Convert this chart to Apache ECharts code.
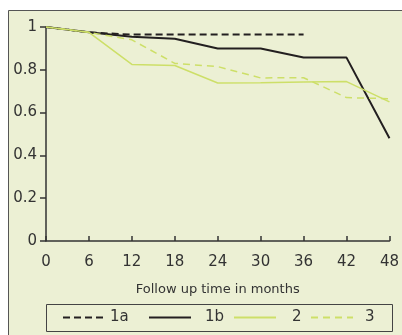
<!DOCTYPE html>
<html>
<head>
<meta charset="utf-8">
<script src="https://cdn.jsdelivr.net/npm/echarts@6/dist/echarts.min.js"></script>
<style>
  html, body { margin: 0; padding: 0; background: #fff; }
  #chart { width: 402px; height: 335px; }
</style>
</head>
<body>
<div id="chart"></div>
<script>
// follow up months
var months = [0, 6, 12, 18, 24, 30, 36, 42, 48];
var monthTicks = ["0", "6", "12", "18", "24", "30", "36", "42", "48"];
var seriesNames = ["1a", "1b", "2", "3"];

// survival values
var group1a = [1, 0.975, 0.965, 0.965, 0.965, 0.965, 0.965];
var group1b = [1, 0.975, 0.955, 0.945, 0.90, 0.90, 0.857, 0.857, 0.48];
var group2 = [1, 0.975, 0.825, 0.82, 0.738, 0.74, 0.743, 0.745, 0.65];
var group3 = [1, 0.975, 0.94, 0.83, 0.815, 0.762, 0.763, 0.67, 0.665];

var black = "#231f20";
var lime = "#cddf68";

function pairs(vals) {
  return vals.map(function (v, i) { return [months[i], v]; });
}

var chart = echarts.init(document.getElementById("chart"));
var font = "DejaVu Sans";

// one legend per item so the spacing follows the original key
var legendLeft = [62, 148, 233, 310];
var legendTextPad = [0, 9, 11, 7];
var legends = seriesNames.map(function (n, i) {
  return {
    data: [n],
    left: legendLeft[i],
    top: 310,
    padding: 0,
    itemWidth: 42,
    itemHeight: 14,
    itemStyle: { opacity: 0 },
    textStyle: {
      fontSize: 15,
      color: "#333",
      fontFamily: font,
      padding: [0, 0, 0, legendTextPad[i]]
    }
  };
});

var option = {
  backgroundColor: "#fff",
  animation: false,
  textStyle: { fontFamily: font },
  graphic: [
    {
      type: "rect",
      shape: { x: 8.5, y: 10.5, width: 400, height: 340 },
      style: { fill: "#ecf0d4", stroke: "#555", lineWidth: 1 },
      z: -10
    },
    {
      type: "rect",
      shape: { x: 46.5, y: 304.5, width: 346, height: 27 },
      style: { fill: "none", stroke: "#444", lineWidth: 1 },
      z: 5
    }
  ],
  grid: { left: 46, right: 10, top: 27, bottom: 94 },
  legend: legends,
  xAxis: {
    type: "value",
    min: 0,
    max: 48,
    interval: 6,
    name: "Follow up time in months",
    nameLocation: "middle",
    nameGap: 42,
    nameTextStyle: { fontSize: 13, color: "#333", fontFamily: font },
    axisLine: { lineStyle: { color: "#333", width: 1.5 } },
    axisTick: { inside: true, length: 5, lineStyle: { color: "#333", width: 1.5 } },
    axisLabel: {
      fontSize: 15,
      color: "#333",
      margin: 14,
      formatter: function (v) { return monthTicks[months.indexOf(v)]; }
    },
    splitLine: { show: false }
  },
  yAxis: {
    type: "value",
    min: 0,
    max: 1,
    interval: 0.2,
    axisLine: { show: true, lineStyle: { color: "#333", width: 1.5 } },
    axisTick: { show: true, length: 6, lineStyle: { color: "#333", width: 1.5 } },
    axisLabel: { fontSize: 15, color: "#333", margin: 9 },
    splitLine: { show: false }
  },
  series: [
    {
      name: "1a",
      type: "line",
      data: pairs(group1a),
      showSymbol: false,
      symbol: "none",
      lineStyle: { color: black, width: 1.8, type: [7, 4] },
      itemStyle: { color: black }
    },
    {
      name: "1b",
      type: "line",
      data: pairs(group1b),
      showSymbol: false,
      symbol: "none",
      lineStyle: { color: black, width: 2 },
      itemStyle: { color: black }
    },
    {
      name: "2",
      type: "line",
      data: pairs(group2),
      showSymbol: false,
      symbol: "none",
      lineStyle: { color: lime, width: 1.5 },
      itemStyle: { color: lime }
    },
    {
      name: "3",
      type: "line",
      data: pairs(group3),
      showSymbol: false,
      symbol: "none",
      lineStyle: { color: lime, width: 1.5, type: [7, 5] },
      itemStyle: { color: lime }
    }
  ]
};
chart.setOption(option);
</script>
</body>
</html>
